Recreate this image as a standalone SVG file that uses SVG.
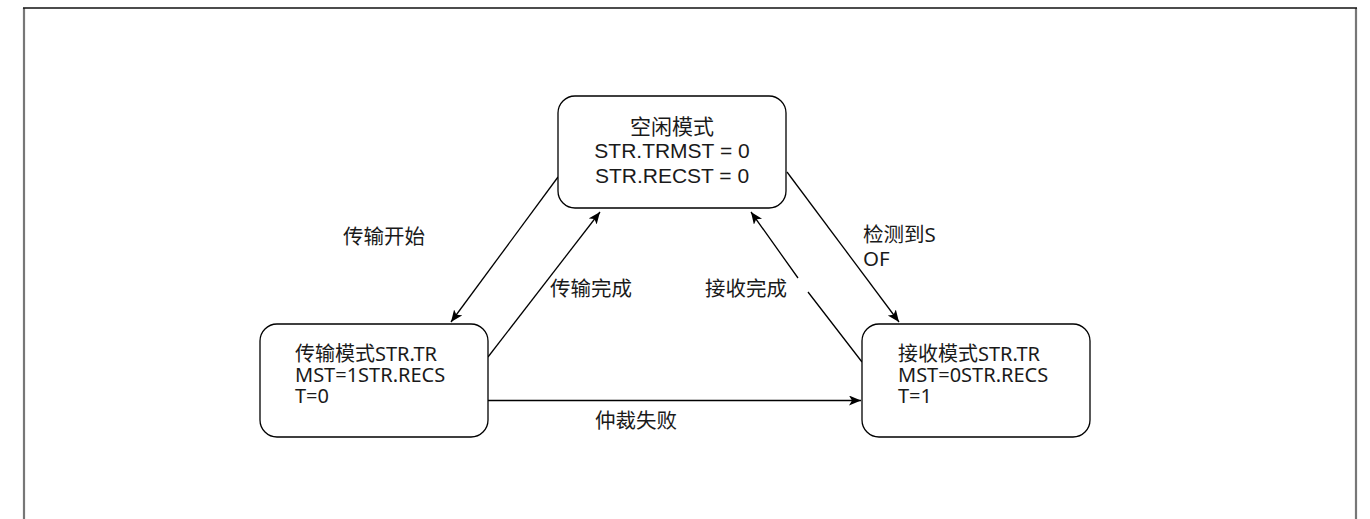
<svg xmlns="http://www.w3.org/2000/svg" width="1370" height="519" viewBox="0 0 1370 519">
<style>
.node{fill:#fff;stroke:#000;stroke-width:1.3}
.edge{fill:none;stroke:#000;stroke-width:1.3}
.t1{font-family:"Liberation Sans","Noto Sans CJK SC",sans-serif;font-size:21px;fill:#1a1a1a}
.t2{font-family:"Noto Sans","Noto Sans CJK SC",sans-serif;font-size:20px;fill:#1a1a1a}
.lbl{font-family:"Noto Sans","Noto Sans CJK SC",sans-serif;font-size:20.5px;fill:#1a1a1a}
</style>
<defs>
<marker id="arr" markerUnits="userSpaceOnUse" markerWidth="14" markerHeight="12" refX="12" refY="5" orient="auto">
<path d="M0,0 L12,5 L0,10 L3,5 z" fill="#000"/>
</marker>
</defs>
<rect width="1370" height="519" fill="#fff"/>
<g id="frame">
<path d="M24,519 V8" stroke="#777" stroke-width="2.2" fill="none"/>
<path d="M1356,519 V8" stroke="#777" stroke-width="2.2" fill="none"/>
<path d="M23,8 H1357" stroke="#111" stroke-width="1.6" fill="none"/>
</g>
<g id="connectors">
<path class="edge" d="M558,177 L451,322" marker-end="url(#arr)"/>
<path class="edge" d="M488,357 L600,212" marker-end="url(#arr)"/>
<path class="edge" d="M787,172 L899,322" marker-end="url(#arr)"/>
<path class="edge" d="M862,362 L808,292 M798,278 L751,212" marker-end="url(#arr)"/>
<path class="edge" d="M488,400.5 L861,400.5" marker-end="url(#arr)"/>
</g>
<g id="idle">
<rect class="node" x="558" y="96" width="228" height="112" rx="17"/>
<text class="t1" x="672" y="134" text-anchor="middle">空闲模式</text>
<text class="t1" x="672" y="158" text-anchor="middle">STR.TRMST = 0</text>
<text class="t1" x="672" y="183" text-anchor="middle">STR.RECST = 0</text>
</g>
<g id="transmit">
<rect class="node" x="260" y="324" width="228" height="113" rx="17"/>
<text class="t2" x="295" y="361">传输模式STR.TR</text>
<text class="t2" x="295" y="382">MST=1STR.RECS</text>
<text class="t2" x="295" y="403">T=0</text>
</g>
<g id="receive">
<rect class="node" x="862" y="324" width="228" height="113" rx="17"/>
<text class="t2" x="898" y="361">接收模式STR.TR</text>
<text class="t2" x="898" y="382">MST=0STR.RECS</text>
<text class="t2" x="898" y="403">T=1</text>
</g>
<g id="labels">
<text class="lbl" x="343" y="244">传输开始</text>
<text class="lbl" x="550" y="296">传输完成</text>
<text class="lbl" x="705" y="296">接收完成</text>
<text class="lbl" x="863" y="242">检测到S</text>
<text class="lbl" x="863" y="266">OF</text>
<text class="lbl" x="595" y="428">仲裁失败</text>
</g>
</svg>
